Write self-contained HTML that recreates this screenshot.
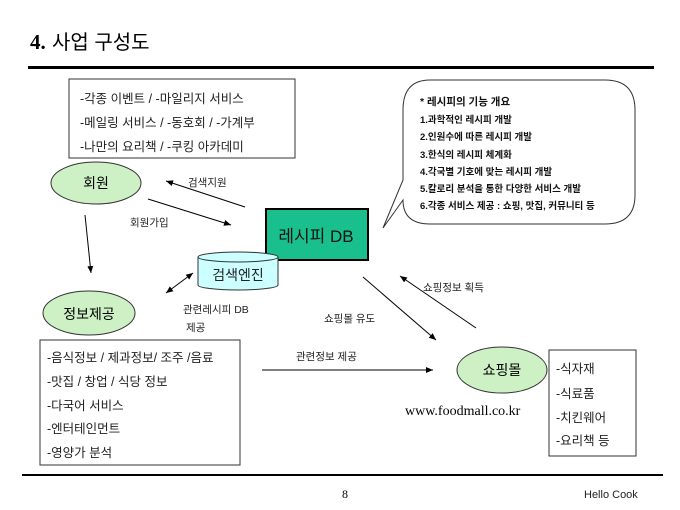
<!DOCTYPE html>
<html><head><meta charset="utf-8"><style>
html,body{margin:0;padding:0;background:#fff;}
svg{display:block;font-family:"Liberation Sans","Noto Sans CJK KR",sans-serif;}
</style></head><body>
<svg width="680" height="510" viewBox="0 0 680 510" xmlns="http://www.w3.org/2000/svg">
<defs>
<marker id="a" markerWidth="8" markerHeight="8" refX="7" refY="4" orient="auto" markerUnits="userSpaceOnUse"><path d="M0,1 L7,4 L0,7 z" fill="#000"/></marker>
<marker id="s" markerWidth="8" markerHeight="8" refX="0" refY="4" orient="auto" markerUnits="userSpaceOnUse"><path d="M7,1 L0,4 L7,7 z" fill="#000"/></marker>
</defs>
<text x="30" y="49" font-size="21" font-family="Liberation Serif,Noto Serif CJK SC,serif" font-weight="bold">4.</text>
<text x="52" y="49" font-size="20">사업 구성도</text>
<rect x="28" y="66" width="626" height="3" fill="#000"/>
<rect x="22" y="474" width="641" height="2" fill="#000"/>
<text x="342" y="498" font-size="12" font-family="Liberation Serif,serif">8</text>
<text x="584" y="498" font-size="11" fill="#222">Hello Cook</text>

<rect x="69" y="79" width="226" height="79" fill="#fff" stroke="#333"/>
<g font-size="12.5" fill="#222">
<text x="80" y="103">-각종 이벤트 / -마일리지 서비스</text>
<text x="80" y="127">-메일링 서비스 / -동호회 / -가계부</text>
<text x="80" y="151">-나만의 요리책 / -쿠킹 아카데미</text>
</g>

<ellipse cx="96" cy="183" rx="45" ry="21" fill="#cdf0c4" stroke="#333"/>
<text x="96" y="188" font-size="14" text-anchor="middle">회원</text>
<ellipse cx="89" cy="313" rx="46" ry="22" fill="#cdf0c4" stroke="#333"/>
<text x="89" y="319" font-size="14" text-anchor="middle">정보제공</text>
<ellipse cx="502" cy="370" rx="45" ry="23" fill="#cdf0c4" stroke="#333"/>
<text x="502" y="375" font-size="14" text-anchor="middle">쇼핑몰</text>

<rect x="266" y="209" width="102" height="51" fill="#19c08e" stroke="#000" stroke-width="2"/>
<text x="316" y="242" font-size="17" text-anchor="middle" fill="#111">레시피 DB</text>

<path d="M198,257 L198,285 A40,5 0 0 0 278,285 L278,257" fill="#ccffff" stroke="#333"/>
<ellipse cx="238" cy="257" rx="40" ry="5" fill="#ccffff" stroke="#333"/>
<text x="238" y="280" font-size="14" text-anchor="middle" fill="#222">검색엔진</text>

<g stroke="#000" stroke-width="1" fill="none">
<line x1="245" y1="207" x2="166" y2="181" marker-end="url(#a)"/>
<line x1="148" y1="199" x2="231" y2="225" marker-end="url(#a)"/>
<line x1="85" y1="215" x2="91" y2="273" marker-end="url(#a)"/>
<line x1="166" y1="293" x2="193" y2="273" marker-start="url(#s)" marker-end="url(#a)"/>
<line x1="363" y1="277" x2="436" y2="340" marker-end="url(#a)"/>
<line x1="476" y1="328" x2="400" y2="276" marker-end="url(#a)"/>
<line x1="262" y1="370" x2="433" y2="370" marker-end="url(#a)"/>
</g>
<g font-size="10.5" fill="#222">
<text x="188" y="186">검색지원</text>
<text x="130" y="226">회원가입</text>
<text x="183" y="313">관련레시피 DB</text>
<text x="186" y="331">제공</text>
<text x="324" y="322">쇼핑몰 유도</text>
<text x="423" y="291">쇼핑정보 획득</text>
<text x="296" y="360">관련정보 제공</text>
</g>

<path d="M430,80 L605,80 Q635,80 635,110 L635,195 Q635,224 605,224 L430,224 Q403,224 403,200 L383,228 L403,180 L403,110 Q403,80 430,80 z" fill="#fff" stroke="#333"/>
<g font-size="9.5" font-weight="bold" fill="#111">
<text x="420" y="105" font-size="10.5">* 레시피의 기능 개요</text>
<text x="420" y="123">1.과학적인 레시피 개발</text>
<text x="420" y="140">2.인원수에 따른 레시피 개발</text>
<text x="420" y="158">3.한식의 레시피 체계화</text>
<text x="420" y="175">4.각국별 기호에 맞는 레시피 개발</text>
<text x="420" y="192">5.칼로리 분석을 통한 다양한 서비스 개발</text>
<text x="420" y="209">6.각종 서비스 제공 : 쇼핑, 맛집, 커뮤니티 등</text>
</g>

<rect x="40" y="340" width="200" height="125" fill="#fff" stroke="#333"/>
<g font-size="12.5" fill="#222">
<text x="47" y="362">-음식정보 / 제과정보/ 조주 /음료</text>
<text x="47" y="386">-맛집 / 창업 / 식당 정보</text>
<text x="47" y="410">-다국어 서비스</text>
<text x="47" y="433">-엔터테인먼트</text>
<text x="47" y="457">-영양가 분석</text>
</g>

<rect x="549" y="350" width="87" height="106" fill="#fff" stroke="#333"/>
<g font-size="12.5" fill="#222">
<text x="556" y="373">-식자재</text>
<text x="556" y="398">-식료품</text>
<text x="556" y="422">-치킨웨어</text>
<text x="556" y="445">-요리책 등</text>
</g>
<text x="405" y="415" font-size="14" font-family="Liberation Serif,serif">www.foodmall.co.kr</text>
</svg>
</body></html>
